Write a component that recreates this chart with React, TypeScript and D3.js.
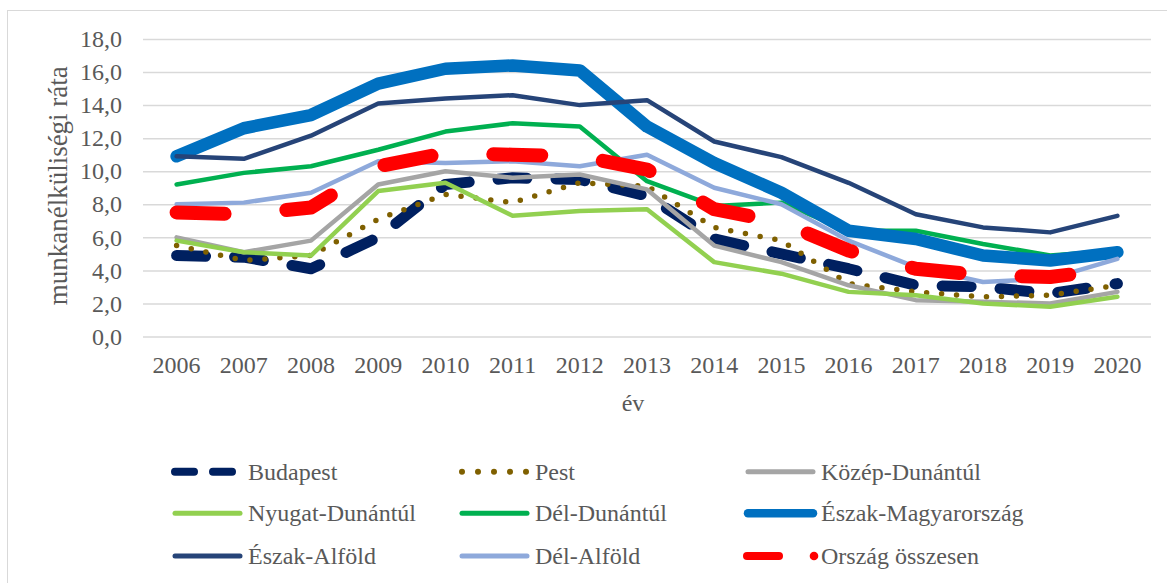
import { useEffect, useRef } from 'react'
import * as d3 from 'd3'

const years = ['2006', '2007', '2008', '2009', '2010', '2011', '2012', '2013', '2014', '2015', '2016', '2017', '2018', '2019', '2020']
const yTicks = [0, 2, 4, 6, 8, 10, 12, 14, 16, 18]

const budapest = [4.9, 4.8, 4.1, 6.0, 9.2, 9.6, 9.5, 8.5, 5.9, 5.0, 4.1, 3.1, 3.0, 2.6, 3.2]
const pest = [5.5, 4.6, 4.9, 7.1, 8.6, 8.1, 9.3, 9.1, 6.6, 5.8, 3.2, 2.7, 2.4, 2.5, 3.1]
const kozepDunantul = [6.0, 5.1, 5.8, 9.2, 10.0, 9.6, 9.8, 8.9, 5.5, 4.5, 3.1, 2.2, 2.1, 2.0, 2.7]
const nyugatDunantul = [5.8, 5.1, 4.9, 8.8, 9.3, 7.3, 7.6, 7.7, 4.5, 3.8, 2.7, 2.5, 2.0, 1.8, 2.4]
const delDunantul = [9.2, 9.9, 10.3, 11.3, 12.4, 12.9, 12.7, 9.4, 7.9, 8.1, 6.4, 6.4, 5.6, 4.9, 5.2]
const eszakMagyarorszag = [10.9, 12.6, 13.4, 15.3, 16.2, 16.4, 16.1, 12.7, 10.5, 8.7, 6.4, 5.9, 4.9, 4.6, 5.1]
const eszakAlfold = [10.9, 10.75, 12.15, 14.1, 14.4, 14.6, 14.0, 14.3, 11.8, 10.85, 9.3, 7.4, 6.6, 6.3, 7.3]
const delAlfold = [8.0, 8.1, 8.7, 10.6, 10.5, 10.6, 10.3, 11.0, 9.0, 8.0, 5.8, 4.2, 3.3, 3.5, 4.7]
const orszag = [7.5, 7.4, 7.8, 10.3, 11.1, 11.0, 10.9, 10.1, 7.7, 6.9, 5.2, 4.1, 3.7, 3.6, 4.1]

interface Series {
  name: string
  values: number[]
  color: string
  width: number
  dash?: string
  legendWidth: number
  legendDash?: string
}

const series: Series[] = [
  { name: 'Budapest', values: budapest, color: '#002060', width: 11, dash: '29 29', legendWidth: 8, legendDash: '19 19' },
  { name: 'Pest', values: pest, color: '#7F6000', width: 5.5, dash: '0 15', legendWidth: 6, legendDash: '0 16' },
  { name: 'Közép-Dunántúl', values: kozepDunantul, color: '#A5A5A5', width: 4.5, legendWidth: 5 },
  { name: 'Nyugat-Dunántúl', values: nyugatDunantul, color: '#92D050', width: 4.5, legendWidth: 5 },
  { name: 'Dél-Dunántúl', values: delDunantul, color: '#00B050', width: 4.5, legendWidth: 5 },
  { name: 'Észak-Magyarország', values: eszakMagyarorszag, color: '#0070C0', width: 12.5, legendWidth: 8.5 },
  { name: 'Észak-Alföld', values: eszakAlfold, color: '#264478', width: 4.5, legendWidth: 5 },
  { name: 'Dél-Alföld', values: delAlfold, color: '#8EA9DB', width: 4.5, legendWidth: 5 },
  { name: 'Ország összesen', values: orszag, color: '#FF0000', width: 14, dash: '48 62', legendWidth: 8 },
]

const W = 1167
const H = 583
const FONT = '"Liberation Serif", "Times New Roman", serif'
const TEXT = '#595959'

export default function App() {
  const svgRef = useRef<SVGSVGElement>(null)

  useEffect(() => {
    document.body.style.margin = '0'
    if (!svgRef.current) return
    const svg = d3.select(svgRef.current)
    svg.selectAll('*').remove()

    const margin = { top: 39, left: 143, right: W - 1151, bottom: H - 336.5 }
    const innerW = W - margin.left - margin.right
    const innerH = H - margin.top - margin.bottom

    // outer frame
    svg.append('rect').attr('x', 7.5).attr('y', 10.5).attr('width', W).attr('height', H)
      .attr('fill', '#fff').attr('stroke', '#D9D9D9').attr('stroke-width', 1)

    const g = svg.append('g').attr('transform', `translate(${margin.left},${margin.top})`)

    const x = d3.scaleBand().domain(years).range([0, innerW])
    const y = d3.scaleLinear().domain([0, 18]).range([innerH, 0])
    const cx = (d: string) => x(d)! + x.bandwidth() / 2

    // grid
    g.append('g')
      .call(d3.axisLeft(y).tickValues(yTicks).tickSize(-innerW).tickFormat(() => ''))
      .call(ax => ax.select('.domain').remove())
      .selectAll('line').attr('stroke', '#D9D9D9').attr('stroke-width', 1.5)

    // y labels
    g.append('g')
      .call(d3.axisLeft(y).tickValues(yTicks).tickSize(0).tickPadding(21)
        .tickFormat(v => d3.format('.1f')(+v).replace('.', ',')))
      .call(ax => ax.select('.domain').remove())
      .selectAll('text')
      .attr('fill', TEXT).attr('font-size', '24px').attr('font-family', FONT)

    // x labels
    g.append('g')
      .attr('transform', `translate(0,${innerH})`)
      .call(d3.axisBottom(x).tickSize(0).tickPadding(19))
      .call(ax => ax.select('.domain').remove())
      .selectAll('text')
      .attr('fill', TEXT).attr('font-size', '24px').attr('font-family', FONT)

    // lines
    const line = d3.line<number>().x((_, i) => cx(years[i])).y(v => y(v))
    series.forEach(s => {
      g.append('path')
        .attr('d', line(s.values))
        .attr('fill', 'none')
        .attr('stroke', s.color)
        .attr('stroke-width', s.width)
        .attr('stroke-linecap', 'round')
        .attr('stroke-linejoin', 'round')
        .attr('stroke-dasharray', s.dash ?? null)
    })

    // axis titles
    svg.append('text')
      .attr('transform', `translate(67,${margin.top + innerH / 2 - 2}) rotate(-90)`)
      .attr('text-anchor', 'middle')
      .attr('fill', TEXT).attr('font-size', '27px').attr('font-family', FONT)
      .text('munkanélküliségi ráta')
    svg.append('text')
      .attr('x', margin.left + innerW / 2 - 14).attr('y', 411)
      .attr('text-anchor', 'middle')
      .attr('fill', TEXT).attr('font-size', '24px').attr('font-family', FONT)
      .text('év')

    // legend
    const colX = [172, 459, 745]
    const rowY = [471.7, 513.3, 556]
    const lineLen = 71
    series.forEach((s, i) => {
      const lx = colX[i % 3]
      const ly = rowY[Math.floor(i / 3)]
      const lg = svg.append('g').attr('transform', `translate(${lx},${ly})`)
      if (s.name === 'Ország összesen') {
        lg.append('line').attr('x1', 2).attr('x2', 34).attr('y1', 0).attr('y2', 0)
          .attr('stroke', s.color).attr('stroke-width', s.legendWidth).attr('stroke-linecap', 'round')
        lg.append('circle').attr('cx', 69).attr('cy', 0).attr('r', 4.3).attr('fill', s.color)
      } else {
        lg.append('line').attr('x1', 3).attr('x2', lineLen - 3).attr('y1', 0).attr('y2', 0)
          .attr('stroke', s.color).attr('stroke-width', s.legendWidth).attr('stroke-linecap', 'round')
          .attr('stroke-dasharray', s.legendDash ?? null)
      }
      lg.append('text').attr('x', lineLen + 5).attr('y', 8)
        .attr('fill', TEXT).attr('font-size', '24px').attr('font-family', FONT)
        .text(s.name)
    })
  }, [])

  return <svg ref={svgRef} width={W} height={H} style={{ display: 'block' }} />
}
